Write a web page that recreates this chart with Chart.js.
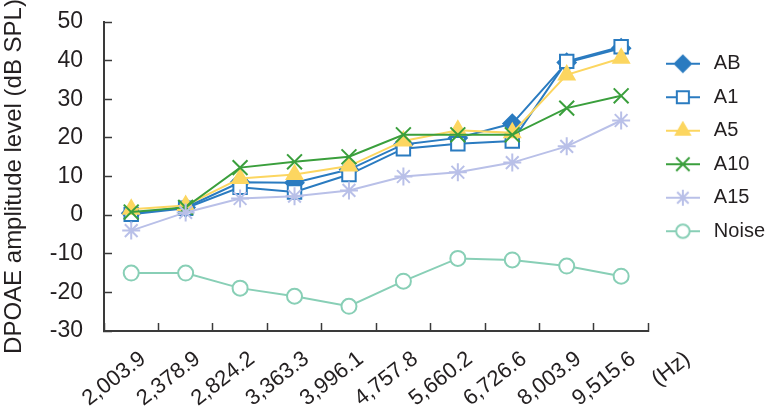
<!DOCTYPE html>
<html lang="en">
<head>
  <meta charset="UTF-8" />
  <title>DPOAE amplitude level</title>
  <script src="https://cdn.jsdelivr.net/npm/chart.js"></script>
  <style>
    html, body { margin: 0; padding: 0; background: #fff; }
    #wrap { width: 768px; height: 415px; }
  </style>
</head>
<body>
  <div id="wrap"><canvas id="chart" width="768" height="415"></canvas></div>
  <script>
    // frequencies (Hz) on the x axis, plus the unit shown after the last one
    const freqs = ['2,003.9', '2,378.9', '2,824.2', '3,363.3', '3,996.1',
                   '4,757.8', '5,660.2', '6,726.6', '8,003.9', '9,515.6'];
    const unitLabel = '(Hz)';

    // DPOAE amplitude (dB SPL)
    const ab    = [0.5, 2.0, 8.5, 8.4, 11.8, 18.3, 20.0, 23.7, 39.5, 43.2];
    const a1    = [0.2, 1.8, 7.2, 6.0, 10.5, 17.2, 18.5, 19.2, 39.8, 43.6];
    const a5    = [1.5, 2.5, 9.5, 10.5, 12.7, 19.2, 22.0, 21.3, 36.3, 40.6];
    const a10   = [0.8, 2.0, 12.3, 13.8, 15.1, 20.8, 20.8, 20.8, 27.7, 30.9];
    const a15   = [-4.0, 0.7, 4.3, 4.9, 6.4, 10.0, 11.1, 13.6, 17.8, 24.5];
    const noise = [-15.0, -15.0, -18.9, -21.0, -23.6, -17.1, -11.2, -11.6, -13.2, -15.8];

    const yTicks = { min: -30, max: 50, step: 10 };

    const FONT = "'Liberation Sans', Arial, sans-serif";
    const TEXT = '#231f20';
    const AXIS = '#3a3a3a';

    const blue = '#2a7bc0';
    const yellow = '#fcd660';
    const green = '#3a9f3c';
    const lavender = '#b9c0e8';
    const teal = '#88cfb6';

    function series(label, data, color, style, radius, fill, order) {
      return {
        label: label,
        data: data,
        borderColor: color,
        backgroundColor: fill,
        pointBackgroundColor: fill,
        pointBorderColor: color,
        pointStyle: style,
        pointRadius: radius,
        pointHoverRadius: radius,
        pointBorderWidth: 2,
        borderWidth: 2,
        tension: 0,
        fill: false,
        clip: false,
        order: order
      };
    }

    const datasets = [
      series('AB', ab, blue, 'rectRot', 9, blue, 6),
      series('A1', a1, blue, 'rect', 9.5, '#ffffff', 5),
      series('A5', a5, yellow, 'triangle', 9, yellow, 4),
      series('A10', a10, green, 'crossRot', 10.5, green, 3),
      series('A15', a15, lavender, 'star', 9, lavender, 2),
      series('Noise', noise, teal, 'circle', 7.5, '#ffffff', 1)
    ];

    // legend marker: short line with the point style on it
    function legendIcon(ds) {
      const c = document.createElement('canvas');
      c.width = 34;
      c.height = 20;
      const g = c.getContext('2d');
      g.strokeStyle = ds.borderColor;
      g.lineWidth = 2;
      g.beginPath();
      g.moveTo(0, 10);
      g.lineTo(34, 10);
      g.stroke();
      g.fillStyle = ds.pointBackgroundColor;
      g.strokeStyle = ds.pointBorderColor;
      Chart.helpers.drawPoint(g, {
        pointStyle: ds.pointStyle,
        radius: ds.pointRadius * 0.9,
        rotation: 0,
        borderWidth: 2
      }, 17, 10);
      return c;
    }

    const ctx = document.getElementById('chart').getContext('2d');
    const chart = new Chart(ctx, {
      type: 'line',
      data: { datasets: datasets },
      options: {
        responsive: false,
        animation: false,
        devicePixelRatio: 1,
        layout: { padding: { top: 22, right: -7, bottom: 0, left: 0 } },
        scales: {
          x: {
            type: 'category',
            labels: freqs.concat(unitLabel),
            max: freqs[freqs.length - 1],
            offset: true,
            grid: {
              display: true,
              drawOnChartArea: false,
              offset: true,
              tickLength: -8,
              tickColor: AXIS,
              tickWidth: 1.5
            },
            border: { display: true, color: AXIS, width: 2 },
            ticks: {
              autoSkip: false,
              minRotation: 38,
              maxRotation: 38,
              padding: 23,
              labelOffset: 12,
              color: TEXT,
              font: { family: FONT, size: 22 }
            },
            afterBuildTicks: (s) => { s.ticks.push({ value: freqs.length }); },
            afterFit: (s) => { s.height = 84; }
          },
          y: {
            min: yTicks.min,
            max: yTicks.max,
            grid: {
              display: true,
              drawOnChartArea: false,
              tickLength: -8,
              tickColor: AXIS,
              tickWidth: 1.5
            },
            border: { display: true, color: AXIS, width: 2 },
            ticks: {
              stepSize: yTicks.step,
              padding: 29,
              color: TEXT,
              font: { family: FONT, size: 23 }
            },
            title: {
              display: true,
              text: 'DPOAE amplitude level (dB SPL)',
              color: TEXT,
              padding: { top: 0, bottom: 0 },
              font: { family: FONT, size: 24 }
            },
            afterFit: (s) => {
              s.width = 104;
              s.paddingTop = 0;
              s.paddingBottom = 0;
            }
          }
        },
        plugins: {
          tooltip: { enabled: false },
          legend: {
            position: 'right',
            align: 'start',
            title: { display: true, text: '', padding: { top: 17, bottom: 0 }, font: { size: 1 } },
            labels: {
              usePointStyle: true,
              pointStyleWidth: 42,
              padding: 13.5,
              color: TEXT,
              font: { family: FONT, size: 20 },
              generateLabels: (ch) => ch.data.datasets.map((ds, i) => ({
                text: ds.label,
                pointStyle: legendIcon(ds),
                fillStyle: ds.backgroundColor,
                strokeStyle: ds.borderColor,
                lineWidth: 0,
                fontColor: TEXT,
                hidden: false,
                datasetIndex: i
              }))
            }
          }
        }
      }
    });
  </script>
</body>
</html>
